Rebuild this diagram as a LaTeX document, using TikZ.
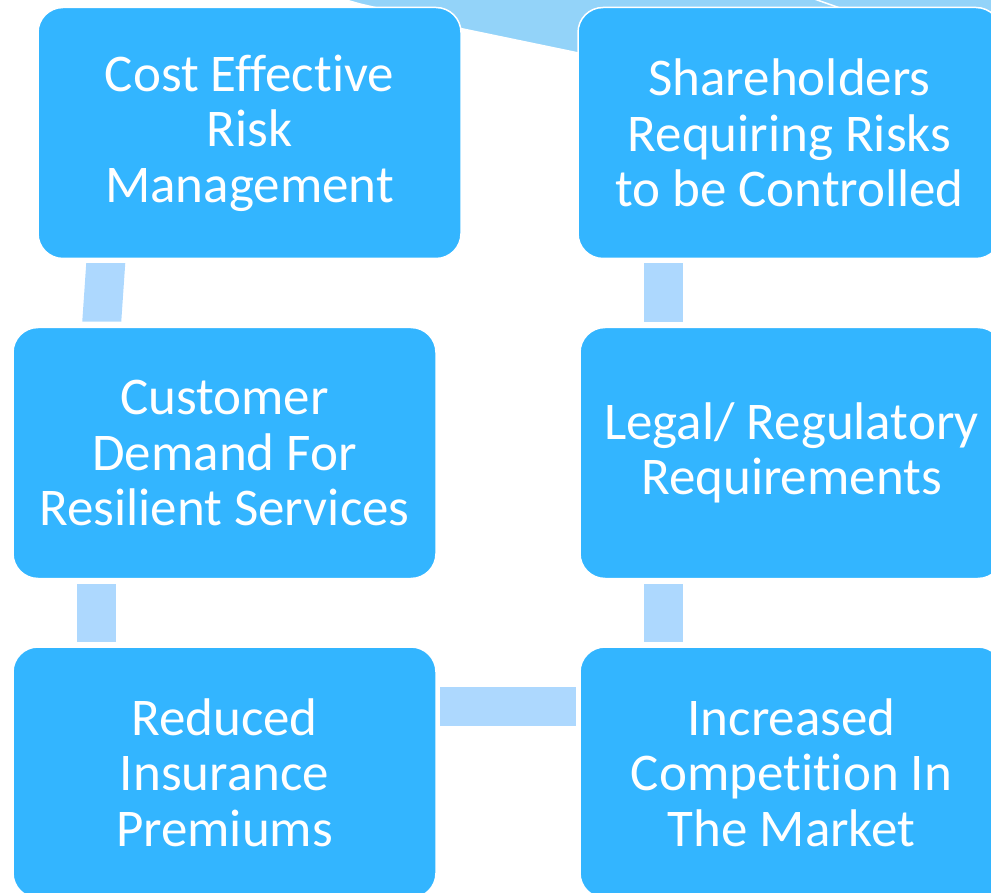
\documentclass[tikz,border=0pt]{standalone}
\usepackage{fontspec}
\setmainfont{Carlito}[Ligatures=NoCommon]
\usetikzlibrary{calc,backgrounds}
\definecolor{boxblue}{HTML}{33B5FF}
\definecolor{barblue}{HTML}{ADD8FE}
\definecolor{bandblue}{HTML}{93D3F9}

\begin{document}
\begin{tikzpicture}[
    x=1pt,y=-1pt,
    reason/.style={rectangle,rounded corners=25pt,fill=boxblue,draw=white,line width=1.5pt,
      minimum width=423pt,minimum height=251pt,align=center,text=white,
      font=\fontsize{53}{55.5}\selectfont},
    bar/.style={fill=barblue},
    band/.style={fill=bandblue,draw=white,line width=1.5pt}
  ]
  \useasboundingbox (0,0) rectangle (991,893);
  \clip (0,0) rectangle (991,893);

  % the six drivers
  \node[reason] (cost)    at (249.5,133)   {Cost Effective\\Risk\\Management};
  \node[reason] (share)   at (789.5,133)   {Shareholders\\Requiring Risks\\to be Controlled};
  \node[reason] (demand)  at (224.5,453)   {Customer\\Demand For\\Resilient Services};
  \node[reason] (legal)   at (791.5,453)   {Legal/ Regulatory\\Requirements};
  \node[reason] (premium) at (224.5,772.5) {Reduced\\Insurance\\Premiums};
  \node[reason] (market)  at (791.5,772.5) {Increased\\Competition In\\The Market};

  % links between neighbouring boxes
  \fill[bar] ($(cost.south west)+(49,4)$) -- ($(cost.south west)+(88,4)$)
    -- ($(demand.north west)+(109,-5)$) -- ($(demand.north west)+(70,-5)$) -- cycle;
  \fill[bar] ($(demand.south west)+(65,5)$) rectangle ($(premium.north west)+(104,-4)$);
  \fill[bar] ($(premium.north east)+(3,41)$) rectangle ($(market.north west)+(-3,80)$);
  \fill[bar] ($(market.north west)+(65,-4)$) rectangle ($(legal.south west)+(104,5)$);
  \fill[bar] ($(legal.north west)+(65,-5)$) rectangle ($(share.south west)+(106,4)$);

  % wide band over the top, behind the boxes
  \begin{scope}[on background layer]
    \filldraw[band] (325,-6) -- (360,4) -- ($(cost.north east)+(-30,14)$)
      -- ($(cost.north east)+(0,22)$) -- ($(share.north west)+(0,46)$)
      -- ($(share.north west)+(120,60)$) -- (1100,100) -- (1100,-6) -- cycle;
    \filldraw[band] (800,-6) -- (840,8) -- (900,30) -- (1100,30) -- (1100,-6) -- cycle;
  \end{scope}
\end{tikzpicture}
\end{document}
